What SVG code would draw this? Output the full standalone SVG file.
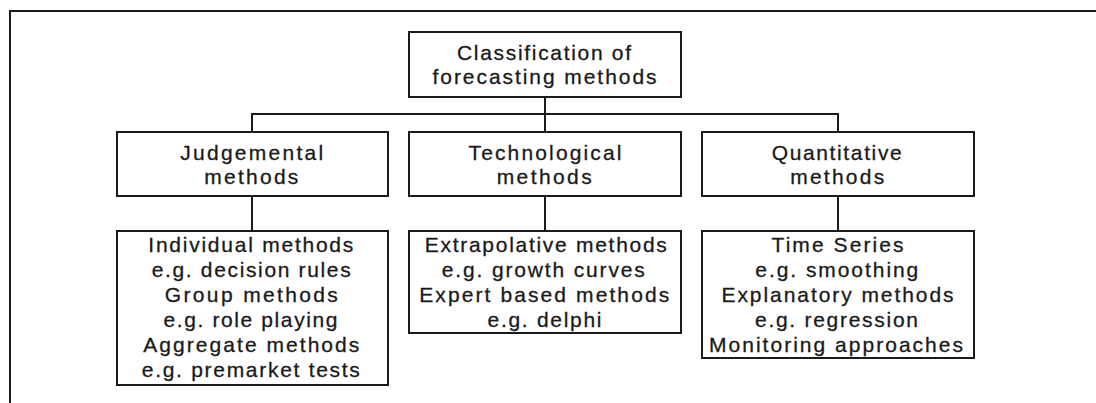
<svg xmlns="http://www.w3.org/2000/svg" width="1096" height="403" viewBox="0 0 1096 403">
<style>
.box{fill:#fff;stroke:#1a1a1a;stroke-width:2}
.ln{stroke:#1a1a1a;stroke-width:2;fill:none}
text{font-family:"Liberation Sans",Arial,sans-serif;font-size:21px;fill:#1a1a1a;stroke:#1a1a1a;stroke-width:0.3;text-anchor:middle}
</style>
<rect width="1096" height="403" fill="#fff"/>
<g id="frame">
<path class="ln" d="M10,403 V11 H1096"/>
</g>
<g id="connectors">
<path class="ln" d="M545,97 V132"/>
<path class="ln" d="M252,132 V114 H838 V132"/>
<path class="ln" d="M252,196 V231"/>
<path class="ln" d="M545,196 V231"/>
<path class="ln" d="M838,196 V231"/>
</g>
<g id="root">
<rect class="box" x="409" y="32" width="272" height="65"/>
<text x="544" y="60" textLength="174" lengthAdjust="spacing">Classification of</text>
<text x="544.5" y="84" textLength="224" lengthAdjust="spacing">forecasting methods</text>
</g>
<g id="judgemental">
<rect class="box" x="117" y="132" width="271" height="64"/>
<text x="251.7" y="160" textLength="143" lengthAdjust="spacing">Judgemental</text>
<text x="251.3" y="184" textLength="94" lengthAdjust="spacing">methods</text>
</g>
<g id="technological">
<rect class="box" x="409" y="132" width="272" height="64"/>
<text x="545" y="160" textLength="153" lengthAdjust="spacing">Technological</text>
<text x="544.2" y="184" textLength="95" lengthAdjust="spacing">methods</text>
</g>
<g id="quantitative">
<rect class="box" x="702" y="132" width="272" height="64"/>
<text x="836.7" y="160" textLength="130" lengthAdjust="spacing">Quantitative</text>
<text x="837.2" y="184" textLength="94" lengthAdjust="spacing">methods</text>
</g>
<g id="judgemental-examples">
<rect class="box" x="117" y="231" width="271" height="154"/>
<text x="250.8" y="252" textLength="205" lengthAdjust="spacing">Individual methods</text>
<text x="251.2" y="277" textLength="199" lengthAdjust="spacing">e.g. decision rules</text>
<text x="251.3" y="302" textLength="173" lengthAdjust="spacing">Group methods</text>
<text x="250.5" y="327" textLength="174" lengthAdjust="spacing">e.g. role playing</text>
<text x="251.3" y="352" textLength="216" lengthAdjust="spacing">Aggregate methods</text>
<text x="250.8" y="377" textLength="218" lengthAdjust="spacing">e.g. premarket tests</text>
</g>
<g id="technological-examples">
<rect class="box" x="409" y="231" width="272" height="102"/>
<text x="545.8" y="252" textLength="242" lengthAdjust="spacing">Extrapolative methods</text>
<text x="543.3" y="277" textLength="203" lengthAdjust="spacing">e.g. growth curves</text>
<text x="544.2" y="302" textLength="250" lengthAdjust="spacing">Expert based methods</text>
<text x="544.5" y="327" textLength="114" lengthAdjust="spacing">e.g. delphi</text>
</g>
<g id="quantitative-examples">
<rect class="box" x="702" y="231" width="272" height="127"/>
<text x="837.5" y="252" textLength="132" lengthAdjust="spacing">Time Series</text>
<text x="836.8" y="277" textLength="163" lengthAdjust="spacing">e.g. smoothing</text>
<text x="837.5" y="302" textLength="232" lengthAdjust="spacing">Explanatory methods</text>
<text x="836.5" y="327" textLength="163" lengthAdjust="spacing">e.g. regression</text>
<text x="836" y="352" textLength="254" lengthAdjust="spacing">Monitoring approaches</text>
</g>
</svg>
